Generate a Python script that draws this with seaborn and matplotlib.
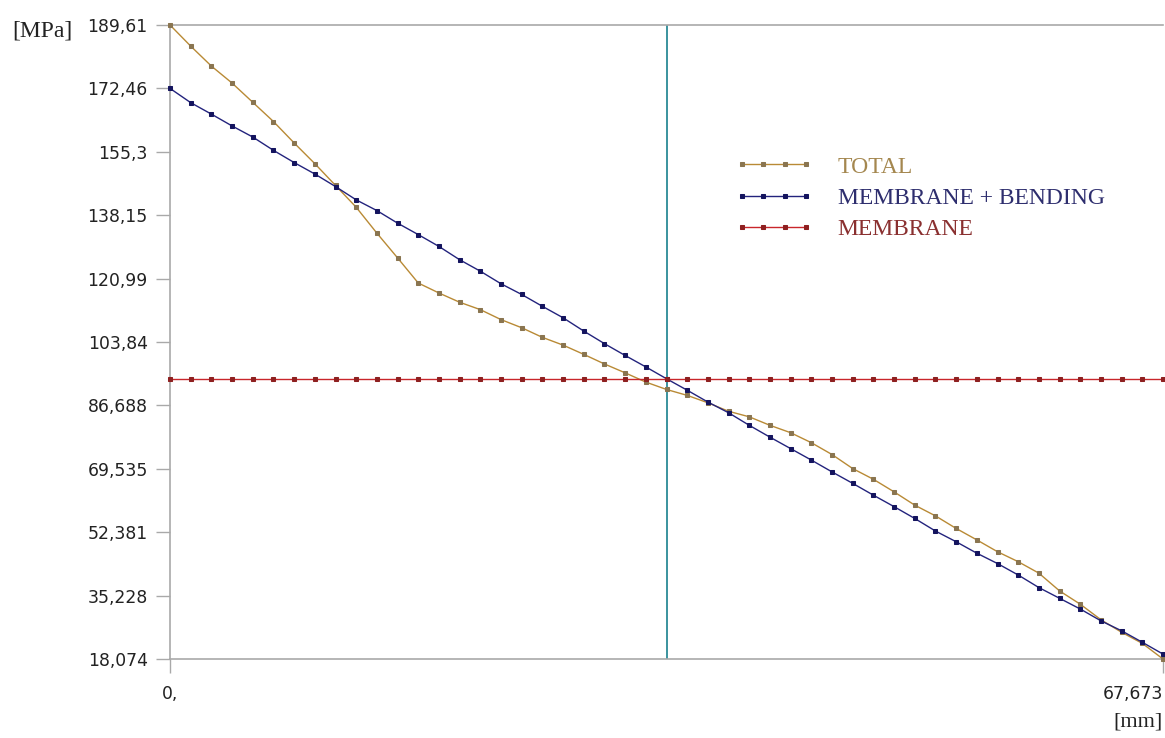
import numpy as np
import matplotlib
matplotlib.use("Agg")
import matplotlib.pyplot as plt
import seaborn as sns

# path along the section, 49 stations
path_len = 67.673
n_points = 49
s = np.linspace(0, path_len, n_points)

total = [189.61, 183.9, 178.5, 173.9, 168.7, 163.5, 157.7, 152.1, 146.2, 140.3,
         133.3, 126.6, 119.8, 117.1, 114.6, 112.6, 109.9, 107.7, 105.1, 103.0,
         100.5, 97.9, 95.5, 93.0, 91.0, 89.4, 87.4, 85.1, 83.6, 81.3,
         79.3, 76.6, 73.4, 69.6, 66.7, 63.3, 59.7, 56.8, 53.4, 50.3,
         47.1, 44.4, 41.3, 36.5, 32.9, 28.7, 25.3, 22.3, 18.07]

membrane_bending = [172.46, 168.6, 165.5, 162.3, 159.3, 155.7, 152.4, 149.3, 145.9, 142.3,
                    139.4, 136.0, 132.9, 129.7, 126.1, 123.0, 119.6, 116.7, 113.5, 110.4,
                    106.8, 103.4, 100.2, 97.1, 93.9, 90.8, 87.6, 84.7, 81.3, 78.1,
                    75.0, 71.9, 68.7, 65.6, 62.4, 59.3, 56.1, 52.7, 49.8, 46.7,
                    43.9, 40.8, 37.4, 34.5, 31.6, 28.4, 25.7, 22.6, 19.4]

membrane_value = 93.95
membrane = [membrane_value] * n_points

y_ticks = [18.074, 35.228, 52.381, 69.535, 86.688, 103.84, 120.99, 138.15, 155.3, 172.46, 189.61]
y_labels = ["18,074", "35,228", "52,381", "69,535", "86,688", "103,84",
            "120,99", "138,15", "155,3", "172,46", "189,61"]
x_ticks = [0, 67.673]
x_labels = ["0,", "67,673"]

sns.set_style("white")
plt.rcParams["font.family"] = ["DejaVu Sans"]

fig = plt.figure(figsize=(11.65, 7.38), dpi=100)
ax = fig.add_axes([170 / 1165, 1 - 659 / 738, 993 / 1165, 634 / 738])

series = [
    ("TOTAL", total, "#b98a35", "#8a7550"),
    ("MEMBRANE + BENDING", membrane_bending, "#23237d", "#14145e"),
    ("MEMBRANE", membrane, "#c9262b", "#8e2020"),
]
for name, vals, lc, mc in series:
    sns.lineplot(x=s, y=vals, ax=ax, color=lc, linewidth=1.0, marker="s",
                 markersize=3.5, markerfacecolor=mc, markeredgecolor=mc,
                 label=name, clip_on=False, zorder=3)

# cursor line at mid path
ax.axvline(s[24], color="#2b8a96", linewidth=1.3, zorder=2)

ax.set_xlim(0, path_len)
ax.set_ylim(18.074, 189.61)
ax.set_yticks(y_ticks)
ax.set_yticklabels(y_labels)
ax.set_xticks(x_ticks)
ax.set_xticklabels(x_labels)
ax.get_xticklabels()[-1].set_ha("right")
ax.tick_params(axis="both", which="both", direction="out", length=10, width=1,
               color="#a9a9a9", labelsize=12.4, labelcolor="#222222", pad=6,
               left=True, bottom=True)
ax.tick_params(axis="x", pad=9)
for side in ["left", "top", "bottom"]:
    ax.spines[side].set_color("#a9a9a9")
    ax.spines[side].set_linewidth(1.2)
ax.spines["right"].set_visible(False)
ax.set_xlabel("")
ax.set_ylabel("")

leg = ax.legend(frameon=False, numpoints=4, handlelength=3.3, handletextpad=1.05,
                labelspacing=0.42, borderpad=0, borderaxespad=0, loc="upper left",
                bbox_to_anchor=(735 / 1165, 1 - 156 / 738),
                bbox_transform=fig.transFigure,
                prop={"family": "Liberation Serif", "size": 17})
for txt, c in zip(leg.get_texts(), ["#a4874f", "#2e2e6e", "#8a3030"]):
    txt.set_color(c)

fig.text(12 / 1165, 1 - 31 / 738, "[MPa]", family="Liberation Serif", size=17,
         color="#222222", va="center", ha="left")
fig.text(1163 / 1165, 1 - 722 / 738, "[mm]", family="Liberation Serif", size=16,
         color="#222222", va="center", ha="right")

fig.savefig("out.png", dpi=100, facecolor="white")
